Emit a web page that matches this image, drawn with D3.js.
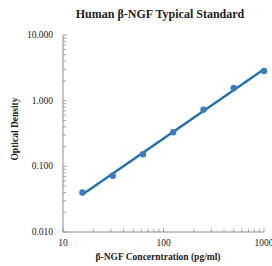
<!DOCTYPE html>
<html>
<head>
<meta charset="utf-8">
<script src="https://cdn.jsdelivr.net/npm/d3@7"></script>
<style>
  body { margin: 0; background: #fff; }
  text { font-family: "Liberation Serif", "Times New Roman", serif; }
</style>
</head>
<body>
<div id="chart"></div>
<script>
const width = 272, height = 266;

// standard curve points
const concentrations = [15.6, 31.25, 62.5, 125, 250, 500, 1000];
const odValues = [0.040, 0.072, 0.153, 0.330, 0.73, 1.56, 2.83];
const yTickValues = [0.01, 0.1, 1, 10];
const xTickValues = [10, 100, 1000];

const svg = d3.select("#chart").append("svg").attr("width", width).attr("height", height);

const x = d3.scaleLog().domain([10, 1000]).range([63, 264]);
const y = d3.scaleLog().domain([0.01, 10]).range([232, 35]);

const axisColor = "#8c8c8c";

// minor ticks for each decade
const minorX = [], minorY = [];
[10, 100].forEach(b => { for (let k = 2; k <= 9; k++) minorX.push(b * k); });
[0.01, 0.1, 1].forEach(b => { for (let k = 2; k <= 9; k++) minorY.push(b * k); });

// y axis
svg.append("line").attr("x1", x(10)).attr("x2", x(10)).attr("y1", y(10)).attr("y2", y(0.01))
  .attr("stroke", axisColor).attr("stroke-width", 1);
svg.selectAll(".ymin").data(minorY.concat(yTickValues)).join("line")
  .attr("x1", x(10)).attr("x2", d => x(10) + (yTickValues.includes(d) ? 4 : 3))
  .attr("y1", d => y(d)).attr("y2", d => y(d))
  .attr("stroke", axisColor).attr("stroke-width", 0.8);
svg.selectAll(".ylab").data(yTickValues).join("text")
  .attr("x", 53).attr("y", d => y(d) + 3)
  .attr("text-anchor", "end").attr("font-size", 9.5).attr("fill", "#222")
  .text(d => d3.format(".3f")(d));

// x axis
svg.append("line").attr("x1", x(10)).attr("x2", x(1000)).attr("y1", y(0.01)).attr("y2", y(0.01))
  .attr("stroke", axisColor).attr("stroke-width", 1);
svg.selectAll(".xmin").data(minorX.concat(xTickValues)).join("line")
  .attr("x1", d => x(d)).attr("x2", d => x(d))
  .attr("y1", y(0.01)).attr("y2", d => y(0.01) - (xTickValues.includes(d) ? 4 : 3))
  .attr("stroke", axisColor).attr("stroke-width", 0.8);
svg.selectAll(".xlab").data(xTickValues).join("text")
  .attr("x", d => x(d)).attr("y", 246)
  .attr("text-anchor", "middle").attr("font-size", 9.5).attr("fill", "#222")
  .text(d => d);

// power-law fit (linear in log-log)
const lx = concentrations.map(Math.log10), ly = odValues.map(Math.log10);
const mx = d3.mean(lx), my = d3.mean(ly);
const slope = d3.sum(lx, (v, i) => (v - mx) * (ly[i] - my)) / d3.sum(lx, v => (v - mx) ** 2);
const icpt = my - slope * mx;
const fit = c => Math.pow(10, icpt + slope * Math.log10(c));
const c0 = concentrations[0], c1 = concentrations[concentrations.length - 1];

svg.append("line")
  .attr("x1", x(c0)).attr("y1", y(fit(c0)))
  .attr("x2", x(c1)).attr("y2", y(fit(c1)))
  .attr("stroke", "#2070b4").attr("stroke-width", 2.4);

svg.selectAll(".pt").data(concentrations).join("circle")
  .attr("cx", d => x(d)).attr("cy", (d, i) => y(odValues[i]))
  .attr("r", 3.2).attr("fill", "#3b7dc0");

// titles
svg.append("text").attr("x", 160).attr("y", 18).attr("text-anchor", "middle")
  .attr("font-size", 12).attr("font-weight", "bold").attr("fill", "#222")
  .text("Human β-NGF Typical Standard");
svg.append("text").attr("x", 158).attr("y", 260).attr("text-anchor", "middle")
  .attr("font-size", 9.5).attr("font-weight", "bold").attr("fill", "#222")
  .text("β-NGF Concerntration (pg/ml)");
svg.append("text").attr("transform", "translate(18,129) rotate(-90)").attr("text-anchor", "middle")
  .attr("font-size", 9.5).attr("font-weight", "bold").attr("fill", "#222")
  .text("Optical Density");
</script>
</body>
</html>
